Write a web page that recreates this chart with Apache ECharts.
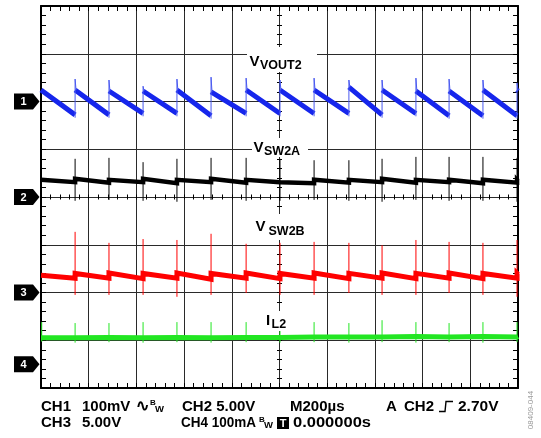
<!DOCTYPE html>
<html><head><meta charset="utf-8">
<script src="https://cdn.jsdelivr.net/npm/echarts@6/dist/echarts.min.js"></script>
<style>html,body{margin:0;padding:0;background:#fff}#c{width:541px;height:438px}</style>
</head><body><div id="c"></div><script>
// ---- data (time in µs, vertical position in screen divisions, 0 = bottom) ----
const edgesUs = [143, 285, 428, 570, 713, 860, 1002, 1145, 1291, 1430, 1572, 1711, 1853, 1996];
const sweepEndUs = 2000;

// CH1 VOUT2 (blue sawtooth)
const ch1After  = [6.24, 6.24, 6.22, 6.22, 6.24, 6.20, 6.24, 6.24, 6.24, 6.30, 6.24, 6.22, 6.22, 6.24, 6.24];
const ch1Before = [5.72, 5.72, 5.75, 5.75, 5.70, 5.75, 5.75, 5.75, 5.75, 5.72, 5.75, 5.70, 5.70, 5.70, 6.22];
const ch1Peak   = [6.47, 6.45, 6.32, 6.47, 6.51, 6.49, 6.45, 6.49, 6.45, 6.45, 6.49, 6.47, 6.45, 6.39];

// CH2 VSW2A (black)
const ch2After  = [4.36, 4.38, 4.36, 4.38, 4.36, 4.38, 4.36, 4.34, 4.36, 4.36, 4.38, 4.36, 4.36, 4.36, 4.36];
const ch2Before = [4.31, 4.30, 4.31, 4.29, 4.31, 4.30, 4.31, 4.29, 4.30, 4.31, 4.30, 4.31, 4.29, 4.30, 4.34];
const ch2Peak   = [4.80, 4.82, 4.73, 4.80, 4.82, 4.82, 4.80, 4.77, 4.77, 4.80, 4.84, 4.84, 4.84, 4.82];
const ch2Dip    = [3.92, 3.94, 3.92, 3.90, 3.94, 3.92, 3.92, 3.94, 3.92, 3.90, 3.94, 3.92, 3.92, 3.90];

// CH3 VSW2B (red)
const ch3After  = [2.36, 2.40, 2.41, 2.40, 2.41, 2.40, 2.41, 2.40, 2.41, 2.40, 2.41, 2.40, 2.41, 2.40, 2.40];
const ch3Before = [2.30, 2.30, 2.29, 2.30, 2.28, 2.30, 2.29, 2.30, 2.29, 2.30, 2.29, 2.30, 2.29, 2.30, 2.38];
const ch3Peak   = [3.27, 3.04, 3.12, 3.10, 3.23, 3.02, 3.04, 3.06, 3.04, 2.99, 3.10, 3.06, 3.04, 3.10];
const ch3Dip    = [1.95, 1.95, 1.95, 1.91, 1.95, 1.99, 1.95, 1.95, 1.99, 1.95, 1.95, 1.99, 1.95, 1.91];

// CH4 IL2 (green)
const ch4Level     = [1.05, 1.06, 1.05, 1.06, 1.05, 1.06, 1.06, 1.07, 1.07, 1.07, 1.08, 1.07, 1.08, 1.07, 1.08];
const ch4SpikeUs   = [3, 143, 285, 428, 570, 713, 860, 1002, 1145, 1291, 1430, 1572, 1711, 1853, 1996];
const ch4Peak      = [1.38, 1.36, 1.36, 1.38, 1.38, 1.38, 1.38, 1.33, 1.38, 1.36, 1.42, 1.38, 1.36, 1.38, 1.38];
const ch4Dip       = [0.97, 0.95, 0.96, 0.95, 0.96, 0.95, 0.96, 0.95, 0.96, 0.95, 0.96, 0.95, 0.96, 0.95, 0.96];

// channel ground reference markers
const chGround = [6, 4, 2, 0.5];
const chNames  = ['1', '2', '3', '4'];

// ---- build series data ----
const segStart = [0].concat(edgesUs);
const segEnd   = edgesUs.concat([sweepEndUs]);
const GAP = '-';

function bandContinuous(after, before) {
  const d = [];
  for (let i = 0; i < segStart.length; i++) {
    d.push([segStart[i], after[i]]);
    d.push([segEnd[i], before[i]]);
  }
  return d;
}
function bandBroken(after, before) {
  const d = [];
  for (let i = 0; i < segStart.length; i++) {
    d.push([segStart[i], after[i]]);
    d.push([segEnd[i], before[i]]);
    d.push([segEnd[i], GAP]);
  }
  return d;
}
function spikes(times, lo, hi) {
  const d = [];
  for (let i = 0; i < times.length; i++) {
    d.push([times[i], lo[i]]);
    d.push([times[i], hi[i]]);
    d.push([times[i], GAP]);
  }
  return d;
}
const ch1JumpLo = ch1Before.slice(0, edgesUs.length).map(v => v - 0.06);
function ch1Jumps() {
  const d = [];
  for (let i = 0; i < edgesUs.length; i++) {
    d.push([edgesUs[i], ch1JumpLo[i]]);
    d.push([edgesUs[i], ch1Peak[i]]);
    d.push([edgesUs[i] + 4, ch1After[i + 1]]);
    d.push([edgesUs[i] + 4, GAP]);
  }
  return d;
}

const BLUE = '#1626ec', BLACK = '#000000', RED = '#ff0000', GREEN = '#22e622';
function line(data, color, width, z) {
  return { type: 'line', data, showSymbol: false, symbol: 'none', connectNulls: false, animation: false, silent: true,
           xAxisIndex: 0, yAxisIndex: 0, z: z || 2, lineStyle: { color, width, cap: 'butt', join: 'miter' } };
}

const FONT = '"Liberation Sans", Arial, Helvetica, sans-serif';
const GRID = { left: 41, top: 6, width: 477, height: 382 };
const noLabel = { show: true, formatter: function () { return ''; }, fontSize: 1, margin: 0 };

function xAx(pos, opts) {
  return Object.assign({ type: 'value', min: 0, max: sweepEndUs, interval: 200, position: pos, gridIndex: 0,
    axisLine: { show: true, onZero: false, lineStyle: { color: '#000', width: 2 } },
    axisTick: { show: true, inside: true, length: 5, lineStyle: { color: '#000', width: 1 } },
    minorTick: { show: true, splitNumber: 5, length: 5, lineStyle: { color: '#000', width: 1 } },
    splitLine: { show: false }, axisLabel: noLabel }, opts);
}
function yAx(pos, opts) {
  return Object.assign({ type: 'value', min: 0, max: 8, interval: 1, position: pos, gridIndex: 0,
    axisLine: { show: true, onZero: false, lineStyle: { color: '#000', width: 2 } },
    axisTick: { show: true, inside: true, length: 5, lineStyle: { color: '#000', width: 1 } },
    minorTick: { show: true, splitNumber: 5, length: 5, lineStyle: { color: '#000', width: 1 } },
    splitLine: { show: false }, axisLabel: noLabel }, opts);
}
const centerTick = { show: true, inside: true, length: 2.5, lineStyle: { color: '#000', width: 1 } };
const centerMinor = { show: true, splitNumber: 5, length: 2.5, lineStyle: { color: '#000', width: 1 } };

const option = {
  backgroundColor: '#ffffff',
  animation: false,
  grid: [Object.assign({ containLabel: false }, GRID)],
  xAxis: [
    xAx('bottom', { splitLine: { show: true, lineStyle: { color: '#2a2a2a', width: 1 } } }),
    xAx('top'),
    xAx('bottom', { offset: -GRID.height / 2, axisLine: { show: false, onZero: false }, axisTick: centerTick, minorTick: centerMinor }),
    xAx('top', { offset: -GRID.height / 2, axisLine: { show: false, onZero: false }, axisTick: centerTick, minorTick: centerMinor })
  ],
  yAxis: [
    yAx('left', { splitLine: { show: true, lineStyle: { color: '#2a2a2a', width: 1 } } }),
    yAx('right'),
    yAx('left', { offset: -GRID.width / 2, axisLine: { show: false, onZero: false }, axisTick: centerTick, minorTick: centerMinor }),
    yAx('right', { offset: -GRID.width / 2, axisLine: { show: false, onZero: false }, axisTick: centerTick, minorTick: centerMinor })
  ],
  series: [
    line(bandContinuous(ch4Level, ch4Level), GREEN, 5, 2),
    line(spikes(ch4SpikeUs, ch4Dip, ch4Peak), GREEN, 1, 2),
    line(bandContinuous(ch3After, ch3Before), RED, 5, 3),
    line(spikes(edgesUs, ch3Dip, ch3Peak), RED, 1, 3),
    line(bandContinuous(ch2After, ch2Before), BLACK, 4.5, 4),
    line(spikes(edgesUs, ch2Dip, ch2Peak), BLACK, 1, 4),
    line(bandBroken(ch1After, ch1Before), BLUE, 5, 5),
    line(ch1Jumps(), '#4a5af0', 1, 5)
  ]
};

const chart = echarts.init(document.getElementById('c'), null, { renderer: 'canvas' });
chart.setOption(option);

// ---- annotations ----
const g = [];
function txt(x, y, s, size, opts) {
  return Object.assign({ type: 'text', x, y, z: 100,
    style: Object.assign({ text: s, fill: '#000', font: 'bold ' + size + 'px ' + FONT, align: 'left', verticalAlign: 'middle' }, (opts && opts.style) || {}) },
    opts && opts.el ? opts.el : {});
}
chGround.forEach((lv, i) => {
  const y = chart.convertToPixel({ yAxisIndex: 0 }, lv);
  g.push({ type: 'polygon', z: 100, shape: { points: [[14, y - 8], [33, y - 8], [39.5, y], [33, y + 8], [14, y + 8]] }, style: { fill: '#000' } });
  g.push(txt(23.5, y + 0.5, chNames[i], 11, { style: { fill: '#fff', align: 'center' } }));
});
function label(bx, by, bw, bh, main, mx, my, sub, sx, sy) {
  g.push({ type: 'rect', z: 90, shape: { x: bx, y: by, width: bw, height: bh }, style: { fill: '#fff' } });
  g.push(txt(mx, my, main, 15));
  g.push(txt(sx, sy, sub, 12.5));
}
label(247, 47, 70, 25, 'V', 249.5, 62, 'VOUT2', 260, 66);
label(252, 138, 56, 19, 'V', 253.5, 147.5, 'SW2A', 264, 152);
label(254, 214, 52, 26, 'V', 255.5, 226.5, 'SW2B', 268.5, 231.5);
label(264, 311, 25, 20, 'I', 266, 320.5, 'L2', 271.5, 324.5);

const R1 = 406.5, R2 = 423;
g.push(txt(41, R1, 'CH1', 15));
g.push(txt(82, R1, '100mV', 15));
g.push(txt(136, R1 + 0.5, '\u223F', 16));
g.push(txt(150, R1 - 3.5, 'B', 8));
g.push(txt(155, R1 + 2.5, 'W', 9.5));
g.push(txt(182, R1, 'CH2 5.00V', 15));
g.push(txt(290, R1, 'M200\u00B5s', 15));
g.push(txt(386, R1, 'A', 15));
g.push(txt(404, R1, 'CH2', 15));
g.push({ type: 'polyline', z: 100, shape: { points: [[439, R1 + 5], [445, R1 + 5], [446, R1 - 5], [453, R1 - 5]] }, style: { stroke: '#000', lineWidth: 1.4, fill: null } });
g.push(txt(458, R1, '2.70V', 15.5));
g.push(txt(41, R2, 'CH3', 15));
g.push(txt(82, R2, '5.00V', 15));
g.push(txt(181, R2, 'CH4 100mA', 15, { el: { scaleX: 0.9 } }));
g.push(txt(259, R2 - 3.5, 'B', 8));
g.push(txt(264, R2 + 2.5, 'W', 9.5));
g.push({ type: 'rect', z: 100, shape: { x: 277, y: R2 - 6, width: 12, height: 12 }, style: { fill: '#000' } });
g.push(txt(283, R2 + 0.5, 'T', 11, { style: { fill: '#fff', align: 'center' } }));
g.push(txt(293, R2, '0.000000s', 15, { el: { scaleX: 1.1 } }));
g.push({ type: 'text', z: 100, x: 531, y: 410, rotation: Math.PI / 2,
  style: { text: '08409-044', fill: '#9a9a9a', font: '8px ' + FONT, align: 'center', verticalAlign: 'middle' } });

chart.setOption({ graphic: g });
</script></body></html>
